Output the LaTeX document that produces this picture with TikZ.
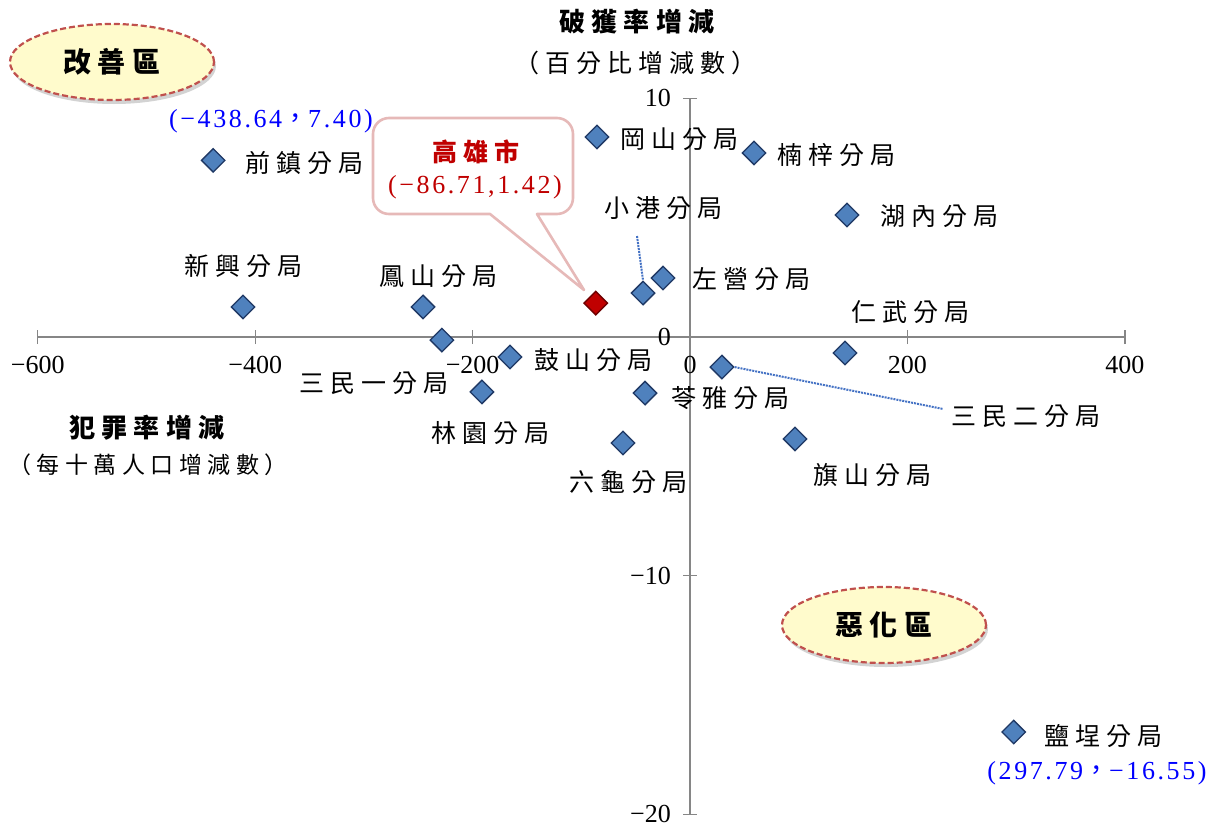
\documentclass[tikz,border=0pt]{standalone}
\usepackage{fontspec}
\setmainfont{Liberation Serif}
\newfontfamily\cjk[LetterSpace=24]{Noto Sans CJK TC}
\newfontfamily\numfont[LetterSpace=10]{Liberation Serif}
\usetikzlibrary{shapes.geometric,shadows}

\definecolor{axisgray}{RGB}{134,134,134}
\definecolor{ptfill}{RGB}{79,129,189}
\definecolor{ptdraw}{RGB}{31,56,100}
\definecolor{cityred}{RGB}{192,0,0}
\definecolor{cityedge}{RGB}{110,0,0}
\definecolor{calloutpink}{RGB}{230,185,184}
\definecolor{zonefill}{RGB}{255,251,204}
\definecolor{zonedraw}{RGB}{192,80,77}
\definecolor{leaderblue}{RGB}{68,114,196}

\tikzset{
  station/.style={diamond, draw=ptdraw, fill=ptfill, line width=1.3pt,
    minimum size=24pt, inner sep=0pt},
  city/.style={station, draw=cityedge, fill=cityred},
  lbl/.style={font=\cjk\fontsize{25}{30}\selectfont, inner sep=0pt},
  coordlbl/.style={font=\numfont\fontsize{26}{30}\selectfont, text=blue, inner sep=0pt},
  ticklbl/.style={font=\fontsize{26}{28}\selectfont, inner sep=0pt},
  axisline/.style={draw=axisgray, line width=1.4pt},
  axistitle/.style={font=\cjk\fontsize{25}{30}\selectfont, inner sep=0pt},
  zone/.style={ellipse, draw=zonedraw, dash pattern=on 6pt off 3pt, line width=2.2pt,
    fill=zonefill, minimum width=204pt, minimum height=76pt,
    drop shadow={shadow xshift=2pt, shadow yshift=-4pt, opacity=0.35},
    font=\cjk\bfseries\fontsize{28}{32}\selectfont},
  leader/.style={draw=leaderblue, densely dotted, line width=2pt},
}

\begin{document}
\begin{tikzpicture}[x=1pt, y=1pt]
\useasboundingbox (0,0) rectangle (1215,-830);

%% chart area, data units
\begin{scope}[shift={(690,-337)}, x=1.087pt, y=23.87pt]

%% axes
\draw[axisline] (-600,0) -- (400,0);
\draw[axisline] (0,-20) -- (0,10);
\foreach \x in {-600,-400,-200,0,200,400}
  \draw[axisline] (\x,0) ++(0,-7pt) -- ++(0,14pt);
\foreach \y in {-20,-10,0,10}
  \draw[axisline] (0,\y) ++(-7pt,0) -- ++(14pt,0);

%% tick labels
\foreach \x/\t in {-600/−600,-400/−400,-200/−200,0/0,200/200,400/400}
  \node[ticklbl] at ([yshift=-28pt]\x,0) {\t};
\foreach \y/\t in {-20/−20,-10/−10,0/0,10/10}
  \node[ticklbl, anchor=east] at ([xshift=-19pt]0,\y) {\t};

%% stations
\node[station] (qianzhen) at (-438.64,7.40) {};
\node[station] (gangshan) at (-85.6,8.38) {};
\node[station] (nanzi)    at (58.9,7.71) {};
\node[station] (hunei)    at (144.4,5.11) {};
\node[station] (xiaogang) at (-43.2,1.84) {};
\node[station] (zuoying)  at (-24.8,2.47) {};
\node[station] (renwu)    at (142.6,-0.67) {};
\node[station] (fengshan) at (-245.6,1.26) {};
\node[station] (xinxing)  at (-411.2,1.26) {};
\node[station] (sanmin1)  at (-228.2,-0.13) {};
\node[station] (gushan)   at (-165.6,-0.84) {};
\node[station] (linyuan)  at (-191.4,-2.30) {};
\node[station] (lingya)   at (-41.4,-2.35) {};
\node[station] (sanmin2)  at (29.4,-1.26) {};
\node[station] (liugui)   at (-61.6,-4.44) {};
\node[station] (qishan)   at (96.6,-4.27) {};
\node[station] (yancheng) at (297.79,-16.55) {};
\node[city]    (kaohsiung) at (-86.71,1.42) {};
\end{scope}

%% station labels
\node[lbl] (qianzhenL) at (304,-163) {前鎮分局};
\node[lbl] (gangshanL) at (679,-139) {岡山分局};
\node[lbl] (nanziL)    at (836,-155) {楠梓分局};
\node[lbl] (huneiL)    at (939,-216) {湖內分局};
\node[lbl] (xiaogangL) at (663,-208) {小港分局};
\node[lbl] (zuoyingL)  at (751,-279) {左營分局};
\node[lbl] (renwuL)    at (910,-312) {仁武分局};
\node[lbl] (fengshanL) at (438,-276) {鳳山分局};
\node[lbl] (xinxingL)  at (243,-266) {新興分局};
\node[lbl] (sanmin1L)  at (374,-383) {三民一分局};
\node[lbl] (gushanL)   at (593,-360) {鼓山分局};
\node[lbl] (linyuanL)  at (490,-433) {林園分局};
\node[lbl] (lingyaL)   at (730,-398) {苓雅分局};
\node[lbl] (sanmin2L)  at (1026,-416) {三民二分局};
\node[lbl] (liuguiL)   at (628,-482) {六龜分局};
\node[lbl] (qishanL)   at (872,-475) {旗山分局};
\node[lbl] (yanchengL) at (1103,-736) {鹽埕分局};

%% value notes
\node[coordlbl] (qianzhenV) at (271,-121) {(−438.64{\cjk ，}7.40)};
\node[coordlbl] (yanchengV) at (1097,-773) {(297.79{\cjk ，}−16.55)};

%% leaders
\coordinate (xiaogangTop) at (637,-236);
\draw[leader] (xiaogangTop) -- (xiaogang.north);
\draw[leader] (sanmin2.east) -- ([yshift=7pt,xshift=-8pt]sanmin2L.west);

%% callout for the city
\coordinate (calloutTip) at (584,-290);
\draw[draw=calloutpink, fill=white, line width=2.6pt, line join=round]
  (490,-214) [rounded corners=16pt] -- (373,-214) -- (373,-118) -- (573,-118)
  -- (573,-214) [sharp corners] -- (537,-214) -- (calloutTip) -- cycle;
\node[lbl, font=\cjk\bfseries\fontsize{25}{30}\selectfont, text=cityred]
  (cityName) at (476,-152) {高雄市};
\node[coordlbl, text=cityred] (cityVal) at (475,-187) {(−86.71,1.42)};

%% zones
\node[zone] (improve) at (112,-62) {改善區};
\node[zone] (worsen)  at (884,-625) {惡化區};

%% axis titles
\node[axistitle, font=\cjk\bfseries\fontsize{26}{30}\selectfont] (yTitle) at (637,-22) {破獲率增減};
\node[axistitle] (yUnit) at (635,-63) {（百分比增減數）};
\node[axistitle, font=\cjk\bfseries\fontsize{26}{30}\selectfont] (xTitle) at (147,-428) {犯罪率增減};
\node[axistitle, font=\cjk\fontsize{23}{28}\selectfont] (xUnit) at (148,-465) {（每十萬人口增減數）};

\end{tikzpicture}
\end{document}
